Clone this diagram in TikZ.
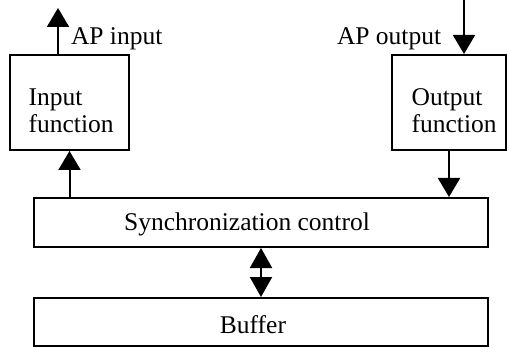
\documentclass[tikz,border=0pt]{standalone}
\usepackage{fontspec}
\usepackage{tikz}
\setmainfont{Liberation Serif}
\usetikzlibrary{arrows.meta}

\begin{document}
\begin{tikzpicture}[x = 0.5pt, y = -0.5pt, line width = 1pt,
  font = \fontsize{12.75}{13.5}\selectfont,
  box/.style = {draw, line width = 1pt, inner sep = 0pt},
  flow/.style = {-{Triangle[length = 9.5pt, width = 11pt]}},
  both/.style = {{Triangle[length = 10pt, width = 11pt]}-{Triangle[length = 10pt, width = 11pt]}}]
\useasboundingbox (0,0) rectangle (508,347);
\node[box, minimum width = 59.5pt, minimum height = 47.5pt] (infunc) at (69.5,102.5) {};
\node[box, minimum width = 57pt, minimum height = 47.5pt] (outfunc) at (449,102.5) {};
\node[box, minimum width = 227pt, minimum height = 24.5pt] (sync) at (261,222.5) {};
\node[box, minimum width = 227pt, minimum height = 24pt] (buffer) at (261,322) {};
\node[anchor = west, align = left] (intext) at ([xshift = 6pt, yshift = -4pt]infunc.west) {Input\\function};
\node[anchor = west, align = left] (outtext) at ([xshift = 6.5pt, yshift = -4pt]outfunc.west) {Output\\function};
\node (synctext) at ([xshift = -7pt, yshift = -1pt]sync.center) {Synchronization control};
\node (buftext) at ([xshift = -4pt, yshift = -1.5pt]buffer.center) {Buffer};
% outside connections
\coordinate (apin) at (58,8);
\coordinate (apout) at (464,0);
\node[anchor = base west, inner sep = 0pt] (apinlabel) at (70,45) {AP input};
\node[anchor = base west, inner sep = 0pt] (apoutlabel) at (336,45) {AP output};
\draw[flow] (infunc.north -| apin) -- (apin);
\draw[flow] (apout) -- (apout |- outfunc.north);
% to and from the control
\draw[flow] (infunc.south |- sync.north) -- (infunc.south);
\draw[flow] (outfunc.south) -- (outfunc.south |- sync.north);
\draw[both] (sync.south) -- (buffer.north);
\end{tikzpicture}
\end{document}
